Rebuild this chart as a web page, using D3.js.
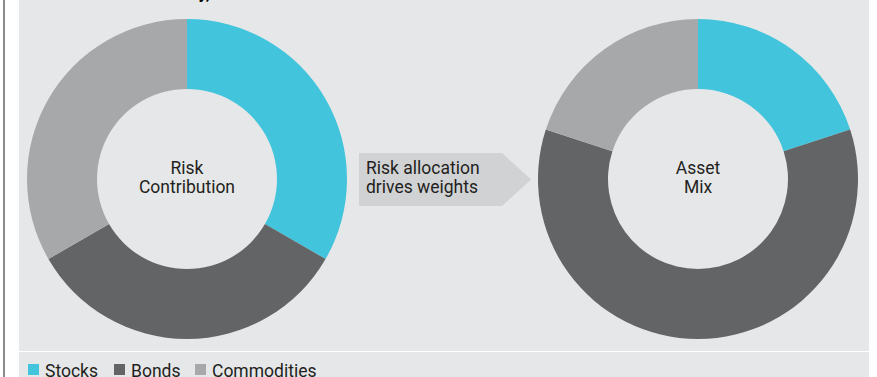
<!DOCTYPE html>
<html><head><meta charset="utf-8">
<script src="https://cdn.jsdelivr.net/npm/d3@7"></script>
<style>body{margin:0;background:#fff;}svg{display:block;}text{font-family:Roboto,"DejaVu Sans",sans-serif;}</style>
</head><body>
<svg id="c" width="877" height="377"></svg>
<script>
const categories = ["Stocks","Bonds","Commodities"];
const riskContribution = [33.3, 33.3, 33.3];
const assetMix = [20, 60, 20];
const colors = ["#41c4dc","#636466","#a7a8aa"];
const pieLabels = [["Risk","Contribution"],["Asset","Mix"]];
const arrowText = ["Risk allocation","drives weights"];

const svg = d3.select("#c");
svg.append("rect").attr("x",3).attr("y",0).attr("width",2).attr("height",377).attr("fill","#8a8a8c");
svg.append("rect").attr("x",19).attr("y",0).attr("width",850).attr("height",351).attr("fill","#e6e7e8");
svg.append("rect").attr("x",19).attr("y",352).attr("width",850).attr("height",25).attr("fill","#e6e7e8");
svg.append("text").attr("x",210).attr("y",-1).attr("text-anchor","end").attr("font-weight","bold").attr("font-size",17).attr("fill","#000").text("Risk Parity,");

const pie = d3.pie().sort(null).value(d=>d);
const arc = d3.arc().innerRadius(90).outerRadius(160);
const centers = [187, 698];
const cy = 179;
[riskContribution, assetMix].forEach((vals,i)=>{
  const g = svg.append("g").attr("transform",`translate(${centers[i]},${cy})`);
  g.selectAll("path").data(pie(vals)).join("path").attr("d",arc).attr("fill",(d,j)=>colors[j]);
  const t = g.append("text").attr("text-anchor","middle").attr("font-size",17.5).attr("fill","#231f20");
  pieLabels[i].forEach((s,k)=>t.append("tspan").attr("x",0).attr("y",-5+k*19).text(s));
});

// arrow
svg.append("path").attr("d","M359,153 L502,153 L531,179.5 L502,206 L359,206 Z").attr("fill","#d1d2d4");
const at = svg.append("text").attr("font-size",17.5).attr("fill","#231f20");
arrowText.forEach((s,k)=>at.append("tspan").attr("x",366).attr("y",174+k*19).text(s));

// legend
const legX = [28, 114, 195];
const legTextX = [45, 131, 212];
const lg = svg.selectAll("g.leg").data(categories).join("g").attr("class","leg");
lg.append("rect").attr("x",(d,i)=>legX[i]).attr("y",364).attr("width",11).attr("height",11).attr("fill",(d,i)=>colors[i]);
lg.append("text").attr("x",(d,i)=>legTextX[i]).attr("y",377).attr("font-size",17.5).attr("fill","#231f20").text(d=>d);
</script>
</body></html>
